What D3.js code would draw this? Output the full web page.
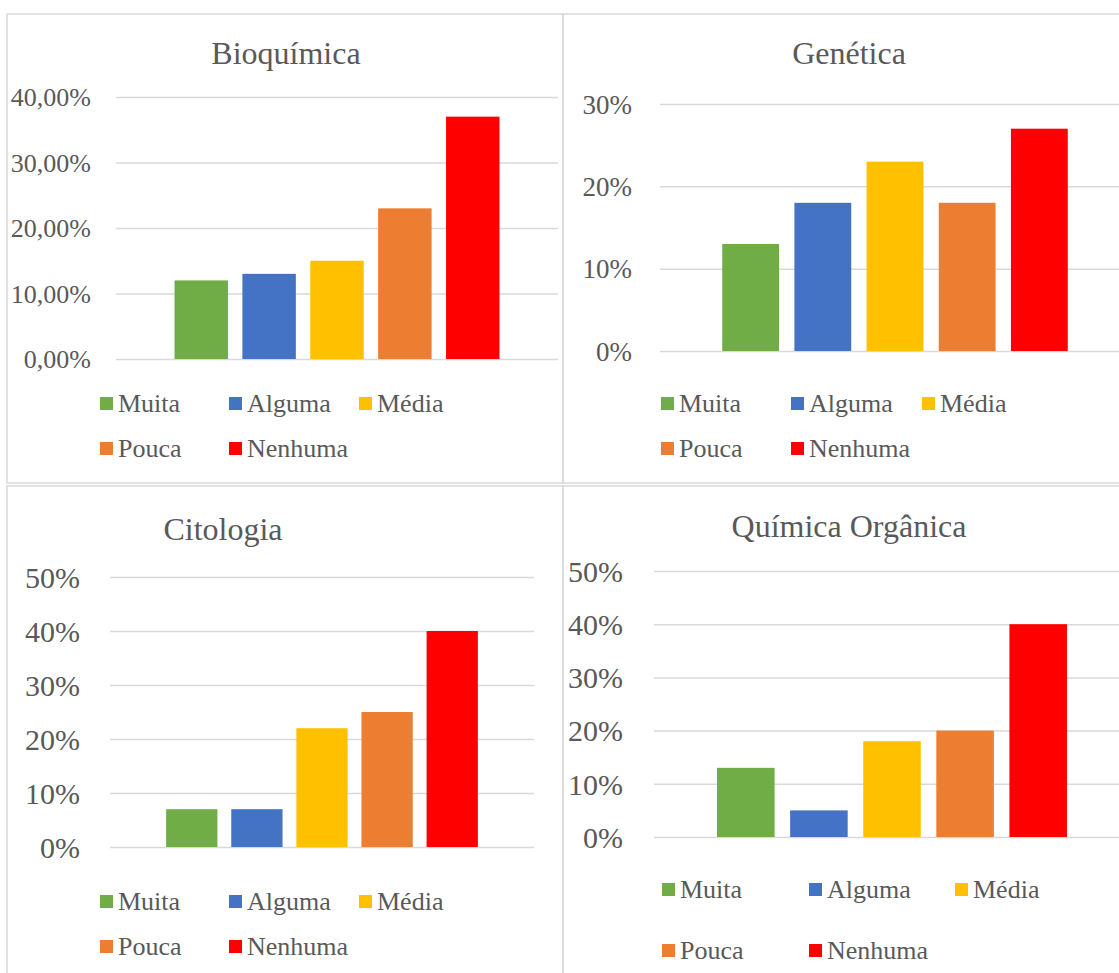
<!DOCTYPE html>
<html>
<head>
<meta charset="utf-8">
<script src="https://cdn.jsdelivr.net/npm/d3@7"></script>
<style>
  html, body { margin: 0; padding: 0; background: #ffffff; }
  svg { display: block; }
  svg text { font-family: "Liberation Serif", "LiberationSerif", "Times New Roman", Times, Tinos, "Noto Serif", "DejaVu Serif", serif; fill: #595959; }
</style>
</head>
<body>
<script>
// Response levels, shared by every panel
const categories = ["Muita", "Alguma", "Média", "Pouca", "Nenhuma"];
const colors = ["#70AD47", "#4472C4", "#FFC000", "#ED7D31", "#FF0000"];

// Panel titles
const titles = ["Bioquímica", "Genética", "Citologia", "Química Orgânica"];

// Share of answers per level (fractions)
const bioquimica      = [0.12, 0.13, 0.15, 0.23, 0.37];
const genetica        = [0.13, 0.18, 0.23, 0.18, 0.27];
const citologia       = [0.07, 0.07, 0.22, 0.25, 0.40];
const quimicaOrganica = [0.13, 0.05, 0.18, 0.20, 0.40];

// Axis tick values and their label formats
const ticksBioquimica      = [0, 0.1, 0.2, 0.3, 0.4];
const ticksGenetica        = [0, 0.1, 0.2, 0.3];
const ticksCitologia       = [0, 0.1, 0.2, 0.3, 0.4, 0.5];
const ticksQuimicaOrganica = [0, 0.1, 0.2, 0.3, 0.4, 0.5];
const tickFormats = [".2%", ".0%", ".0%", ".0%"];

const W = 1119, H = 973;
const FONT = "'Liberation Serif', 'LiberationSerif', 'Times New Roman', Times, Tinos, 'Noto Serif', 'DejaVu Serif', serif";
const ptBR = d3.formatLocale({ decimal: ",", thousands: ".", grouping: [3], currency: ["R$", ""], percent: "%" });

// Column geometry: 219% gap width, -27% overlap between series
const overlap = 0.27, gapWidth = 2.19;

// Layout of each panel
const panels = [
  { title: titles[0], values: bioquimica, ticks: ticksBioquimica, fmt: tickFormats[0],
    frame: [7, 14, 563, 483], plot: { left: 116, right: 558, top: 97, bottom: 359 },
    labelSize: 26, labelGap: 25, titleX: 286, titleY: 64,
    legendX: [100, 229, 359], legendY: [412, 457] },
  { title: titles[1], values: genetica, ticks: ticksGenetica, fmt: tickFormats[1],
    frame: [563, 14, 1130, 483], plot: { left: 660, right: 1130, top: 104, bottom: 351 },
    labelSize: 27, labelGap: 28, titleX: 849, titleY: 64,
    legendX: [661, 791, 922], legendY: [412, 457] },
  { title: titles[2], values: citologia, ticks: ticksCitologia, fmt: tickFormats[2],
    frame: [7, 486, 563, 990], plot: { left: 110, right: 534, top: 577, bottom: 847 },
    labelSize: 30, labelGap: 30, titleX: 223, titleY: 540,
    legendX: [100, 229, 359], legendY: [910, 955] },
  { title: titles[3], values: quimicaOrganica, ticks: ticksQuimicaOrganica, fmt: tickFormats[3],
    frame: [563, 486, 1130, 990], plot: { left: 654, right: 1130, top: 571, bottom: 837 },
    labelSize: 30, labelGap: 31, titleX: 849, titleY: 537,
    legendX: [662, 809, 955], legendY: [898, 959] }
];

const svg = d3.select("body").append("svg")
  .attr("width", W).attr("height", H)
  .attr("viewBox", `0 0 ${W} ${H}`)
  .attr("font-family", FONT);

svg.append("rect").attr("width", W).attr("height", H).attr("fill", "#ffffff");

panels.forEach(p => {
  const g = svg.append("g");

  // chart frame
  const [fx0, fy0, fx1, fy1] = p.frame;
  g.append("rect")
    .attr("x", fx0).attr("y", fy0)
    .attr("width", fx1 - fx0).attr("height", fy1 - fy0)
    .attr("fill", "none").attr("stroke", "#d9d9d9").attr("stroke-width", 1.5);

  const maxTick = p.ticks[p.ticks.length - 1];
  const y = d3.scaleLinear().domain([0, maxTick]).range([p.plot.bottom, p.plot.top]);
  const x = d3.scaleBand()
    .domain(categories)
    .range([p.plot.left, p.plot.right])
    .paddingInner(overlap / (1 + overlap))
    .paddingOuter((gapWidth / 2) / (1 + overlap));

  // value axis with gridlines
  const axis = d3.axisLeft(y)
    .tickValues(p.ticks)
    .tickFormat(ptBR.format(p.fmt))
    .tickSize(-(p.plot.right - p.plot.left))
    .tickPadding(p.labelGap);

  const ax = g.append("g")
    .attr("transform", `translate(${p.plot.left},0)`)
    .call(axis)
    .attr("font-family", FONT)
    .attr("font-size", p.labelSize);
  ax.select(".domain").remove();
  ax.selectAll(".tick line").attr("stroke", "#d9d9d9").attr("stroke-width", 1.5);
  ax.selectAll(".tick text")
    .attr("fill", "#595959")
    .attr("dy", "0.34em");

  // bars
  g.selectAll("rect.bar")
    .data(categories.map((c, i) => ({ c, v: p.values[i], color: colors[i] })))
    .join("rect")
    .attr("class", "bar")
    .attr("x", d => x(d.c))
    .attr("width", x.bandwidth())
    .attr("y", d => y(d.v))
    .attr("height", d => y(0) - y(d.v))
    .attr("fill", d => d.color);

  // title
  g.append("text")
    .attr("x", p.titleX).attr("y", p.titleY)
    .attr("text-anchor", "middle")
    .attr("font-size", 32)
    .text(p.title);

  // legend: three entries on the first row, two on the second
  const legend = g.append("g");
  categories.forEach((c, i) => {
    const row = i < 3 ? 0 : 1;
    const col = i < 3 ? i : i - 3;
    const lx = p.legendX[col];
    const ly = p.legendY[row];
    legend.append("rect")
      .attr("x", lx).attr("y", ly - 15)
      .attr("width", 13).attr("height", 13)
      .attr("fill", colors[i]);
    legend.append("text")
      .attr("x", lx + 18).attr("y", ly)
      .attr("font-size", 26)
      .text(c);
  });
});
</script>
</body>
</html>
